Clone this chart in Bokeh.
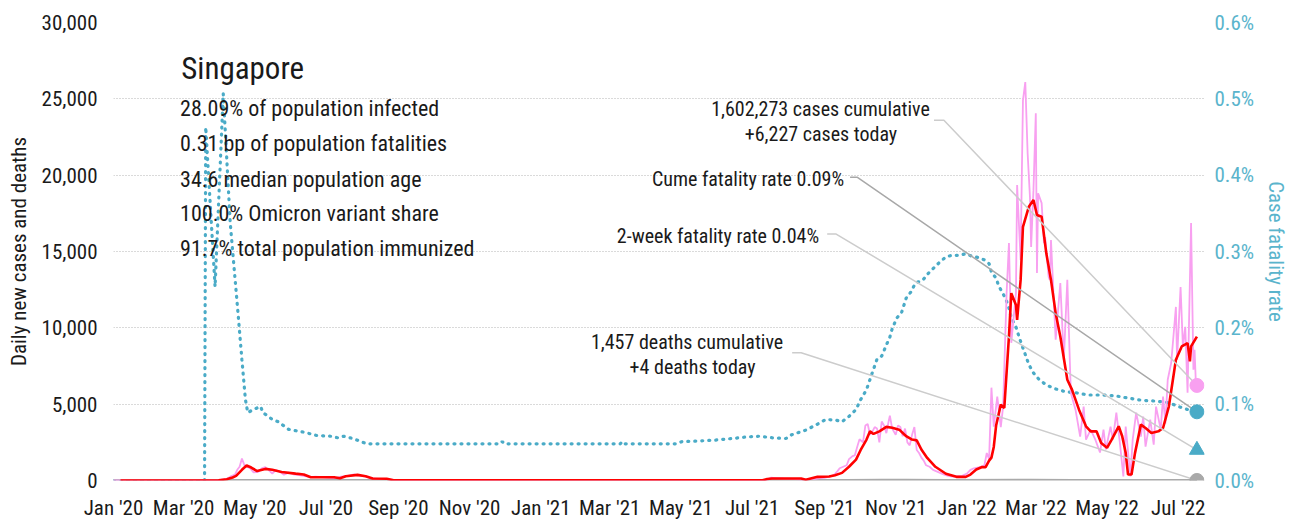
import pandas as pd
from bokeh.plotting import figure
from bokeh.models import (Range1d, LinearAxis, Label, NumeralTickFormatter, PrintfTickFormatter,
                          DatetimeTickFormatter, MonthsTicker, FixedTicker)
from bokeh.embed import file_html
from bokeh.resources import INLINE

FONT = "'Roboto Condensed', 'Liberation Sans Narrow', 'DejaVu Sans Condensed', sans-serif"

# ---------------- data ----------------
country = "Singapore"
info_lines = ["28.09% of population infected", "0.31 bp of population fatalities",
              "34.6 median population age", "100.0% Omicron variant share",
              "91.7% total population immunized"]
cases_cum, cases_today = 1602273, 6227
deaths_cum, deaths_today = 1457, 4
cfr_cum, cfr_2wk = 0.09, 0.04

avg_dates = ["2020-01-07", "2020-03-31", "2020-04-07", "2020-04-12", "2020-04-15", "2020-04-20", "2020-04-24",
             "2020-04-28", "2020-05-03", "2020-05-10", "2020-05-16", "2020-05-24", "2020-06-05", "2020-06-12",
             "2020-06-18", "2020-07-08", "2020-07-13", "2020-07-18", "2020-07-28", "2020-08-04", "2020-08-10",
             "2020-08-22", "2020-08-28", "2020-09-15", "2021-07-10", "2021-07-14", "2021-07-18", "2021-08-12",
             "2021-08-16", "2021-08-26", "2021-09-05", "2021-09-10", "2021-09-16", "2021-09-22", "2021-09-28",
             "2021-10-02", "2021-10-07", "2021-10-10", "2021-10-13", "2021-10-18", "2021-10-24", "2021-10-29",
             "2021-11-04", "2021-11-10", "2021-11-15", "2021-11-19", "2021-11-23", "2021-11-28", "2021-12-05",
             "2021-12-14", "2021-12-23", "2021-12-31", "2022-01-04", "2022-01-09", "2022-01-14", "2022-01-17",
             "2022-01-20", "2022-01-22", "2022-01-24", "2022-01-26", "2022-01-30", "2022-02-02", "2022-02-06",
             "2022-02-08", "2022-02-12", "2022-02-13", "2022-02-16", "2022-02-18", "2022-02-23", "2022-02-27",
             "2022-03-02", "2022-03-06", "2022-03-10", "2022-03-14", "2022-03-18", "2022-03-22", "2022-03-28",
             "2022-04-01", "2022-04-07", "2022-04-13", "2022-04-17", "2022-04-22", "2022-04-26", "2022-05-01",
             "2022-05-05", "2022-05-11", "2022-05-14", "2022-05-17", "2022-05-19", "2022-05-22", "2022-05-25",
             "2022-05-30", "2022-06-03", "2022-06-08", "2022-06-14", "2022-06-18", "2022-06-23", "2022-06-29",
             "2022-07-04", "2022-07-09", "2022-07-11", "2022-07-12", "2022-07-17"]
avg_cases = [0, 20, 80, 200, 300, 700, 980,
             850, 620, 760, 700, 560, 450, 390,
             215, 210, 150, 280, 370, 280, 130,
             110, 20, 15, 12, 100, 130, 130,
             50, 240, 260, 350, 500, 900, 1370,
             2000, 2680, 3220, 3050, 3220, 3510, 3460,
             3330, 2900, 2680, 2630, 2030, 1480, 900,
             440, 240, 240, 390, 720, 880, 870,
             1300, 1500, 2200, 3600, 4970, 4750, 9430,
             12270, 11500, 10520, 13140, 16620, 17930, 18370,
             17390, 17280, 14880, 13140, 10960, 9430, 6600,
             5950, 4640, 3550, 3220, 3220, 2460, 2140,
             2680, 3550, 2900, 1810, 390, 390, 1810,
             3660, 3440, 3110, 3220, 3440, 4860, 7910,
             8780, 9000, 7800, 8780, 9430]

daily_dates = ["2020-01-01", "2020-03-31", "2020-04-07", "2020-04-10", "2020-04-14", "2020-04-16", "2020-04-18",
               "2020-04-20", "2020-04-22", "2020-04-24", "2020-04-27", "2020-04-30", "2020-05-04", "2020-05-07",
               "2020-05-10", "2020-05-13", "2020-05-16", "2020-05-19", "2020-05-22", "2020-05-26", "2020-05-30",
               "2020-06-03", "2020-06-08", "2020-06-13", "2020-06-18", "2020-06-22", "2020-06-28", "2020-07-04",
               "2020-07-09", "2020-07-14", "2020-07-20", "2020-07-25", "2020-07-29", "2020-08-03", "2020-08-08",
               "2020-08-15", "2020-08-22", "2020-08-30", "2021-07-10", "2021-07-14", "2021-07-17", "2021-07-22",
               "2021-07-28", "2021-08-05", "2021-08-12", "2021-08-18", "2021-08-24", "2021-08-28", "2021-09-01",
               "2021-09-05", "2021-09-09", "2021-09-12", "2021-09-14", "2021-09-17", "2021-09-20", "2021-09-22",
               "2021-09-25", "2021-09-27", "2021-09-29", "2021-10-01", "2021-10-04", "2021-10-06", "2021-10-08",
               "2021-10-10", "2021-10-12", "2021-10-14", "2021-10-16", "2021-10-18", "2021-10-20", "2021-10-22",
               "2021-10-24", "2021-10-26", "2021-10-27", "2021-10-29", "2021-11-01", "2021-11-03", "2021-11-05",
               "2021-11-07", "2021-11-09", "2021-11-11", "2021-11-13", "2021-11-15", "2021-11-17", "2021-11-19",
               "2021-11-21", "2021-11-23", "2021-11-25", "2021-11-27", "2021-11-30", "2021-12-03", "2021-12-06",
               "2021-12-09", "2021-12-12", "2021-12-16", "2021-12-20", "2021-12-24", "2021-12-28", "2022-01-01",
               "2022-01-04", "2022-01-07", "2022-01-10", "2022-01-13", "2022-01-16", "2022-01-18", "2022-01-20",
               "2022-01-22", "2022-01-24", "2022-01-27", "2022-01-30", "2022-02-01", "2022-02-04", "2022-02-06",
               "2022-02-08", "2022-02-12", "2022-02-13", "2022-02-14", "2022-02-16", "2022-02-17", "2022-02-18",
               "2022-02-20", "2022-02-22", "2022-02-24", "2022-02-25", "2022-02-27", "2022-03-01", "2022-03-02",
               "2022-03-03", "2022-03-06", "2022-03-08", "2022-03-09", "2022-03-12", "2022-03-13", "2022-03-14",
               "2022-03-18", "2022-03-22", "2022-03-25", "2022-03-28", "2022-03-31", "2022-04-04", "2022-04-08",
               "2022-04-11", "2022-04-13", "2022-04-17", "2022-04-21", "2022-04-25", "2022-04-28", "2022-04-30",
               "2022-05-04", "2022-05-06", "2022-05-09", "2022-05-12", "2022-05-15", "2022-05-17", "2022-05-21",
               "2022-05-23", "2022-05-26", "2022-05-30", "2022-06-01", "2022-06-03", "2022-06-07", "2022-06-10",
               "2022-06-12", "2022-06-16", "2022-06-18", "2022-06-20", "2022-06-22", "2022-06-25", "2022-06-29",
               "2022-06-30", "2022-07-03", "2022-07-05", "2022-07-07", "2022-07-09", "2022-07-12", "2022-07-14",
               "2022-07-15", "2022-07-16", "2022-07-17"]
daily_cases = [0, 30, 100, 250, 380, 700, 900,
               1440, 1020, 900, 800, 530, 570, 800,
               880, 680, 460, 680, 600, 380, 520,
               410, 350, 290, 220, 250, 220, 180,
               150, 250, 300, 400, 320, 280, 150,
               110, 90, 20, 10, 60, 180, 160,
               130, 110, 60, 70, 100, 150, 180,
               250, 350, 600, 800, 900, 1000, 1400,
               1600, 1650, 2200, 2700, 2500, 3600, 3700,
               3000, 3200, 3500, 3400, 2500, 3860, 3600,
               3100, 3900, 4250, 3400, 3000, 3600, 3500,
               2900, 3400, 2500, 2300, 3000, 3500, 2000,
               1800, 1500, 1300, 1000, 900, 700, 600,
               500, 400, 300, 250, 280, 300, 450,
               700, 800, 850, 900, 1000, 1800, 1400,
               6080, 3530, 5490, 3500, 4840, 12290, 15550,
               9020, 12290, 19350, 17700, 14440, 19870, 24900,
               26100, 21440, 18560, 15300, 19020, 24050, 13600,
               18820, 18170, 15550, 15950, 13330, 13140, 15750,
               9220, 12940, 7900, 13140, 5750, 4640, 2880,
               4840, 2680, 3330, 2680, 1830, 3330, 2030,
               3530, 2680, 4440, 2480, 260, 3530, 260,
               2680, 4440, 2880, 4180, 2220, 3990, 2350,
               4840, 3330, 5490, 3730, 6600, 7710, 11370,
               7900, 12680, 8760, 10070, 5750, 16860, 7260,
               8560, 6600, 6227]

death_dates = ["2020-01-01", "2020-04-20", "2020-06-01", "2021-09-20", "2021-10-20", "2021-11-10",
               "2021-12-15", "2022-02-25", "2022-04-01", "2022-07-17"]
daily_deaths = [0, 1, 0, 5, 15, 12, 4, 10, 5, 4]

cfr_dates = ["2020-01-01", "2020-03-19", "2020-03-20", "2020-03-28", "2020-04-04", "2020-04-10", "2020-04-17",
             "2020-04-20", "2020-04-23", "2020-04-25", "2020-04-30", "2020-05-06", "2020-05-08", "2020-05-16",
             "2020-05-21", "2020-05-30", "2020-06-06", "2020-06-13", "2020-06-23", "2020-07-05", "2020-07-11",
             "2020-07-16", "2020-07-24", "2020-07-31", "2020-08-05", "2020-11-27", "2020-11-29", "2020-12-01",
             "2021-03-10", "2021-03-12", "2021-03-14", "2021-04-27", "2021-05-02", "2021-05-19", "2021-05-31",
             "2021-06-14", "2021-06-26", "2021-07-07", "2021-07-18", "2021-07-30", "2021-08-04", "2021-08-16",
             "2021-08-25", "2021-09-02", "2021-09-11", "2021-09-16", "2021-09-22", "2021-09-28", "2021-10-02",
             "2021-10-07", "2021-10-11", "2021-10-16", "2021-10-20", "2021-10-25", "2021-10-27", "2021-10-29",
             "2021-11-02", "2021-11-06", "2021-11-10", "2021-11-14", "2021-11-18", "2021-11-24", "2021-11-28",
             "2021-12-02", "2021-12-08", "2021-12-14", "2021-12-19", "2021-12-25", "2021-12-31", "2022-01-05",
             "2022-01-11", "2022-01-16", "2022-01-20", "2022-01-22", "2022-01-26", "2022-01-28", "2022-01-31",
             "2022-02-03", "2022-02-06", "2022-02-08", "2022-02-12", "2022-02-16", "2022-02-20", "2022-02-23",
             "2022-02-27", "2022-03-04", "2022-03-10", "2022-03-18", "2022-03-27", "2022-04-04", "2022-04-15",
             "2022-04-26", "2022-05-08", "2022-05-19", "2022-05-31", "2022-06-12", "2022-06-23", "2022-07-01",
             "2022-07-09", "2022-07-17"]
cfr_pct = [0, 0, 0.463, 0.254, 0.507, 0.337, 0.213,
           0.158, 0.106, 0.089, 0.093, 0.097, 0.089, 0.080,
           0.077, 0.067, 0.065, 0.063, 0.059, 0.058, 0.056,
           0.058, 0.055, 0.051, 0.048, 0.048, 0.051, 0.048,
           0.048, 0.051, 0.048, 0.048, 0.051, 0.052, 0.053,
           0.055, 0.057, 0.058, 0.056, 0.055, 0.060, 0.066,
           0.073, 0.080, 0.079, 0.077, 0.084, 0.093, 0.106,
           0.119, 0.137, 0.159, 0.163, 0.181, 0.188, 0.199,
           0.213, 0.220, 0.239, 0.247, 0.259, 0.262, 0.270,
           0.276, 0.285, 0.293, 0.295, 0.295, 0.297, 0.294,
           0.292, 0.289, 0.284, 0.273, 0.265, 0.256, 0.247,
           0.239, 0.226, 0.213, 0.201, 0.182, 0.165, 0.152,
           0.141, 0.132, 0.125, 0.120, 0.116, 0.115, 0.112,
           0.112, 0.111, 0.108, 0.105, 0.104, 0.102, 0.097,
           0.093, 0.090]

y_ticks = [0, 5000, 10000, 15000, 20000, 25000, 30000]
cfr_ticks = [0, 0.1, 0.2, 0.3, 0.4, 0.5, 0.6]

# ---------------- figure ----------------
D = pd.to_datetime
start = D("2020-01-01")
end = D("2022-07-23 12:00")
last = D(daily_dates[-1])

PINK, RED, TEAL, GREY = "#f8a0f0", "#ff0000", "#4aabc7", "#a9a9a9"
TXT = "#1a1a1a"
TEAL_TXT = "#5ab4cc"

p = figure(width=1291, height=522, x_axis_type="datetime",
           x_range=Range1d(start, end), y_range=Range1d(0, 30000),
           output_backend="svg", toolbar_location=None,
           min_border_left=113, min_border_right=85, min_border_top=22, min_border_bottom=41)
p.extra_y_ranges = {"cfr": Range1d(0, 0.6)}
p.outline_line_color = None
p.background_fill_color = "white"
p.border_fill_color = "white"

p.xgrid.grid_line_color = None
p.ygrid.ticker = FixedTicker(ticks=y_ticks)
p.ygrid.grid_line_color = "#b5b5b5"
p.ygrid.grid_line_dash = "1 2"
p.ygrid.grid_line_width = 1.2

# axes
xa = p.xaxis[0]
xa.ticker = MonthsTicker(months=[0, 2, 4, 6, 8, 10])
xa.formatter = DatetimeTickFormatter(months="%b '%y", years="%b '%y", days="%b '%y")
ya = p.yaxis[0]
ya.ticker = FixedTicker(ticks=y_ticks)
ya.formatter = NumeralTickFormatter(format="0,0")
ya.axis_label = "Daily new cases and deaths"
ya.axis_label_standoff = 8
ya.axis_label_text_color = TXT
ya.major_label_standoff = 16

ra = LinearAxis(y_range_name="cfr", ticker=FixedTicker(ticks=cfr_ticks),
                formatter=PrintfTickFormatter(format="%.1f%%"))
ra.axis_label = "Case fatality rate"
ra.axis_label_text_color = TEAL_TXT
ra.axis_label_standoff = 7
ra.major_label_standoff = 10
ra.major_label_text_color = TEAL_TXT
p.add_layout(ra, "right")

for ax in (xa, ya, ra):
    ax.axis_line_color = None
    ax.major_tick_line_color = None
    ax.minor_tick_line_color = None
    ax.major_tick_out = 0
    ax.major_tick_in = 0
    ax.minor_tick_out = 0
    ax.minor_tick_in = 0
    ax.major_label_text_font = FONT
    ax.axis_label_text_font = FONT
    ax.major_label_text_font_size = "21px"
    ax.axis_label_text_font_size = "21px"
    ax.axis_label_text_font_style = "normal"
for ax in (xa, ya):
    ax.major_label_text_color = TXT
xa.major_label_standoff = 15

# series
p.line(D(cfr_dates), cfr_pct, y_range_name="cfr", color=TEAL, line_width=3.2,
       line_dash="1 6", line_cap="round")
p.line(D(death_dates), daily_deaths, color=GREY, line_width=3)
p.line(D(daily_dates), daily_cases, color=PINK, line_width=1.8)
p.line(D(avg_dates), avg_cases, color=RED, line_width=2.6)

# leader lines (annotation anchors in data units)
scale = 30000 / 0.6
leaders = [
    ([D("2021-12-03 19:00"), D("2021-12-12 07:00"), last], [23595, 23595, cases_today], "#cccccc"),
    ([D("2021-09-22 22:00"), D("2021-09-28 22:00"), last], [19869, 19869, cfr_cum * scale], "#a8a8a8"),
    ([D("2021-09-03 07:00"), D("2021-09-11 00:00"), last], [16144, 16144, cfr_2wk * scale], "#cccccc"),
    ([D("2021-08-04 07:00"), D("2021-08-12 00:00"), last], [8366, 8366, deaths_today], "#cccccc"),
]
for xs, ys, c in leaders:
    p.line(xs, ys, color=c, line_width=1.5)

# end markers
p.scatter([last], [cases_today], size=14, color=PINK)
p.scatter([last], [cfr_cum], y_range_name="cfr", size=14, color=TEAL)
p.scatter([last], [cfr_2wk], y_range_name="cfr", size=15, marker="triangle", color=TEAL)
p.scatter([last], [deaths_today], size=14, color=GREY)

# text annotations
def lab(x, y, text, size="20px", align="left"):
    p.add_layout(Label(x=D(x), y=y, text=text, text_font=FONT, text_font_size=size,
                       text_color=TXT, text_align=align, text_baseline="middle"))

lab("2020-02-28", 26993, country, size="31px")
for t, yy in zip(info_lines, [24379, 22092, 19739, 17516, 15229]):
    lab("2020-02-27", yy, t, size="22px")

lab("2021-11-30 07:00", 24314, f"{cases_cum:,} cases cumulative", align="right")
lab("2021-08-29", 22680, f"+{cases_today:,} cases today", align="center")
lab("2021-09-17 19:00", 19739, f"Cume fatality rate {cfr_cum:.2f}%", align="right")
lab("2021-08-27 10:00", 16013, f"2-week fatality rate {cfr_2wk:.2f}%", align="right")
lab("2021-07-27 15:00", 9085, f"{deaths_cum:,} deaths cumulative", align="right")
lab("2021-05-11", 7451, f"+{deaths_today} deaths today", align="center")

open("out.html", "w").write(file_html(p, INLINE))
